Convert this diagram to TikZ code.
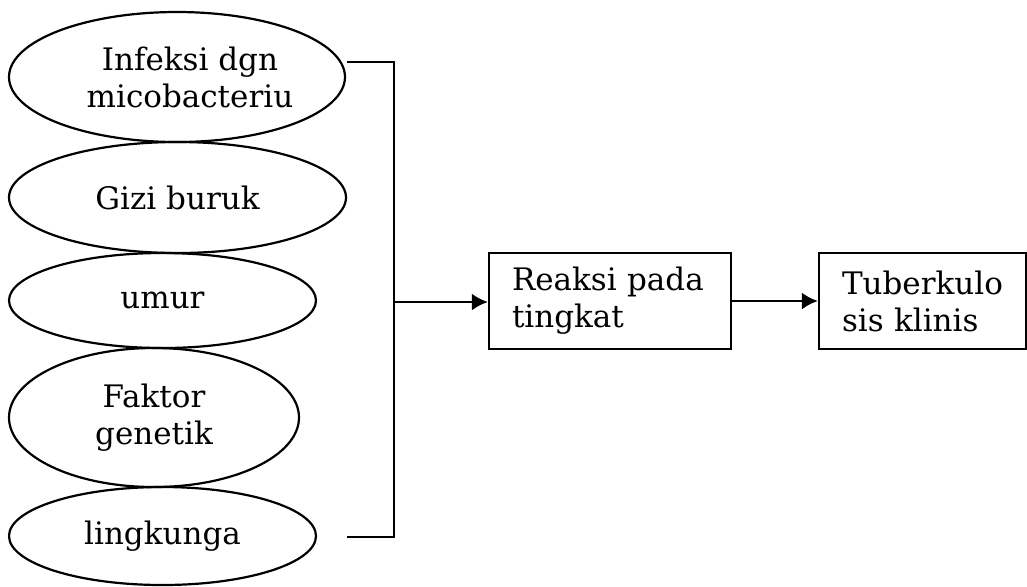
\documentclass[tikz,border=0pt]{standalone}
\usepackage{fontspec}
\setmainfont{DejaVu Serif}
\usetikzlibrary{shapes.geometric,arrows.meta}

\begin{document}
\begin{tikzpicture}[x=0.5pt,y=-0.5pt,
        faktor/.style={draw,ellipse,line width=1.1pt,inner sep=0pt,align=center,
            font=\fontsize{15.5}{18.5}\selectfont},
        kotak/.style={draw,rectangle,line width=1.1pt,inner xsep=11.5pt,inner ysep=0pt,
            minimum height=48pt,align=left,font=\fontsize{15.5}{18.5}\selectfont},
        panah/.style={-{Latex[length=8pt,width=8.5pt]},line width=1.4pt}]
        \useasboundingbox (0,0) rectangle (1027,586);
        % faktor-faktor di kiri
        \node [faktor,minimum width=168pt,minimum height=65pt] (infeksi) at (177,77)
            {\hspace*{13pt}Infeksi dgn\\\hspace*{13pt}micobacteriu};
        \node [faktor,minimum width=168.5pt,minimum height=55.5pt] (gizi) at (177.5,197.5) {Gizi buruk};
        \node [faktor,minimum width=153.5pt,minimum height=47.5pt] (umur) at (162.5,300.5) {umur};
        \node [faktor,minimum width=145pt,minimum height=69.5pt] (genetik) at (154,417.5) {Faktor\\genetik};
        \node [faktor,minimum width=153.5pt,minimum height=49pt] (lingkungan) at (162.5,536) {lingkunga};
        % kotak proses
        \node [kotak,text width=98pt] (reaksi) at (610,301) {Reaksi pada\\tingkat};
        \node [kotak,text width=80.5pt] (tbc) at (922.5,301) {Tuberkulo\\sis klinis};
        % kurung penggabung
        \coordinate (atas) at (347,62);
        \coordinate (bawah) at (347,537);
        \coordinate (tengah) at (394,302);
        \draw [line width=1.3pt] (atas) -- (394,62) -- (394,537) -- (bawah);
        \draw [panah] (tengah) -- (reaksi.west |- tengah);
        \draw [panah] (reaksi.east) -- (tbc.west);
    \end{tikzpicture}
\end{document}
